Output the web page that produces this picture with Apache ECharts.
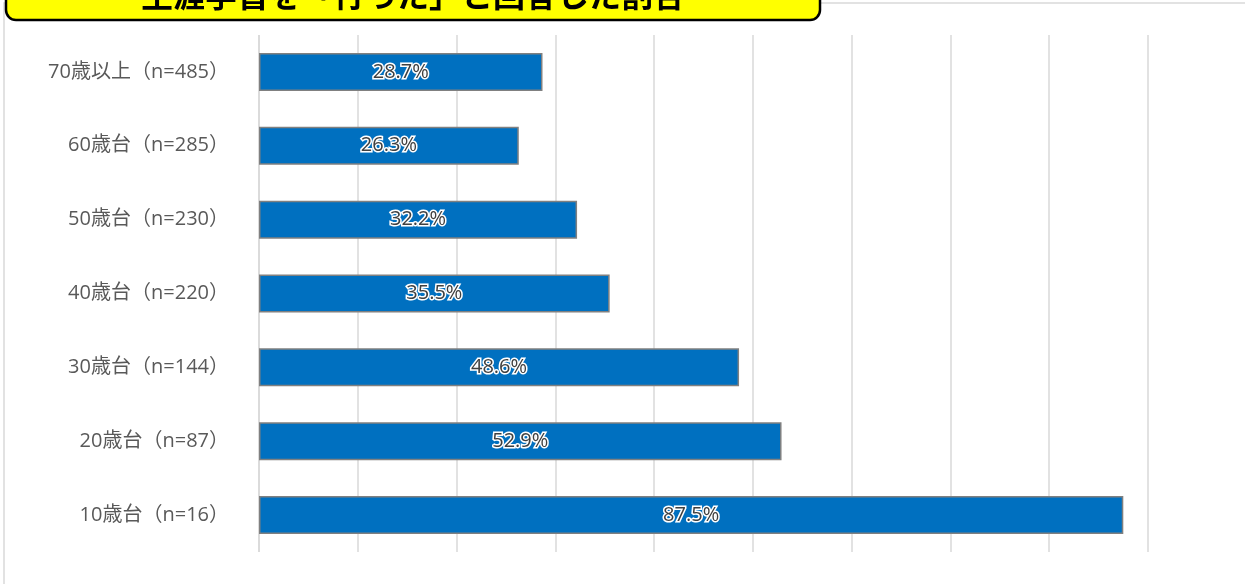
<!DOCTYPE html>
<html lang="ja">
<head>
<meta charset="utf-8">
<title>生涯学習を「行った」と回答した割合</title>
<script src="https://cdn.jsdelivr.net/npm/echarts@6/dist/echarts.min.js"></script>
<style>
  html, body { margin: 0; padding: 0; background: #ffffff; }
  #chart { width: 1245px; height: 584px; }
</style>
</head>
<body>
<div id="chart"></div>
<script>
// Age groups (top to bottom) with sample sizes
const categories = [
  '70歳以上（n=485）',
  '60歳台（n=285）',
  '50歳台（n=230）',
  '40歳台（n=220）',
  '30歳台（n=144）',
  '20歳台（n=87）',
  '10歳台（n=16）'
];
// Share who answered they did lifelong learning (%)
const rates = [28.7, 26.3, 32.2, 35.5, 48.6, 52.9, 87.5];
const titleText = '生涯学習を「行った」と回答した割合';

const JP = '"Noto Sans CJK JP", "Noto Sans", sans-serif';
const LABEL_FONT = '"Open Sans", "Noto Sans CJK JP", sans-serif';

const chart = echarts.init(document.getElementById('chart'), null, { renderer: 'canvas' });

chart.setOption({
  backgroundColor: '#ffffff',
  animation: false,
  grid: { left: 259, right: 97, top: 35, bottom: 32, containLabel: false },
  xAxis: {
    type: 'value',
    min: 0,
    max: 90,
    interval: 10,
    axisLabel: { show: false },
    axisLine: { show: false },
    axisTick: { show: false },
    splitLine: { show: true, lineStyle: { color: '#d9d9d9', width: 1.5 } }
  },
  yAxis: {
    type: 'category',
    data: categories,
    inverse: true,
    axisLine: { show: false },
    axisTick: { show: false },
    axisLabel: {
      color: '#595959',
      fontSize: 20,
      fontFamily: LABEL_FONT,
      margin: 30
    }
  },
  series: [{
    type: 'bar',
    data: rates,
    barWidth: 38,
    itemStyle: {
      color: '#0070C0',
      borderColor: '#808080',
      borderWidth: 1.5
    },
    label: {
      show: true,
      position: 'inside',
      formatter: p => p.value.toFixed(1) + '%',
      color: '#404040',
      fontSize: 20,
      fontFamily: '"Open Sans", "Noto Sans", sans-serif',
      textBorderColor: '#ffffff',
      textBorderWidth: 3
    }
  }],
  graphic: [
    {
      // chart frame
      type: 'rect',
      z: 0,
      silent: true,
      shape: { x: 4, y: 3, width: 1300, height: 700 },
      style: { fill: 'none', stroke: '#d9d9d9', lineWidth: 1.5 }
    },
    {
      // left vertical axis line
      type: 'line',
      z: 1,
      silent: true,
      shape: { x1: 259, y1: 35, x2: 259, y2: 552 },
      style: { stroke: '#d9d9d9', lineWidth: 1.5 }
    },
    {
      // title banner
      type: 'rect',
      z: 10,
      silent: true,
      shape: { x: 6, y: -40, width: 814, height: 60, r: 10 },
      style: { fill: '#FFFF00', stroke: '#000000', lineWidth: 2.5 }
    },
    {
      type: 'text',
      z: 11,
      silent: true,
      x: 413,
      y: -5,
      style: {
        text: titleText,
        fill: '#000000',
        font: 'bold 32px ' + JP,
        textAlign: 'center',
        textVerticalAlign: 'middle'
      }
    }
  ]
});
</script>
</body>
</html>
